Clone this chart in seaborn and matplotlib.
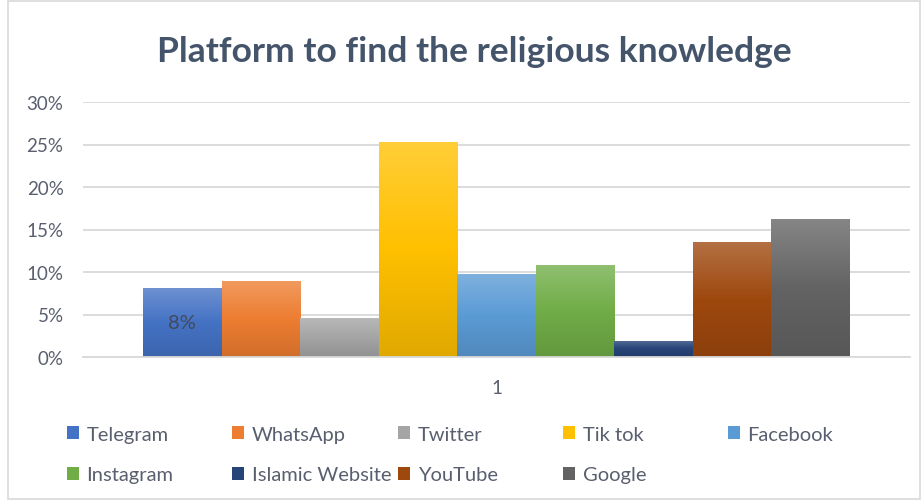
import numpy as np
import pandas as pd
import matplotlib
matplotlib.use("Agg")
import matplotlib.pyplot as plt
import matplotlib.colors as mcolors
from matplotlib.patches import Patch, Rectangle
from matplotlib.ticker import PercentFormatter
import seaborn as sns

platforms = ["Telegram", "WhatsApp", "Twitter", "Tik tok", "Facebook",
             "Instagram", "Islamic Website", "YouTube", "Google"]
values = [0.081, 0.089, 0.046, 0.253, 0.098, 0.108, 0.019, 0.135, 0.162]
category = ["1"] * len(platforms)
colors = ["#4472C4", "#ED7D31", "#A5A5A5", "#FFC000", "#5B9BD5",
          "#70AD47", "#264478", "#9E480E", "#636363"]
data_labels = {"Telegram": "8%"}

df = pd.DataFrame({"cat": category, "platform": platforms, "value": values})

sns.set_theme(style="white")
plt.rcParams["font.family"] = ["Lato", "DejaVu Sans"]

text_col = "#595f6e"
W, H = 923, 502
fig = plt.figure(figsize=(W / 100, H / 100), dpi=100)
ax = fig.add_axes([83 / W, 1 - 358 / H, (910 - 83) / W, (358 - 103) / H])

sns.barplot(data=df, x="cat", y="value", hue="platform", hue_order=platforms,
            palette=colors, width=0.855, gap=0, ax=ax, legend=False,
            saturation=1, edgecolor="none", linewidth=0)

ax.set_xlim(-0.5, 0.5)
ax.set_ylim(0, 0.30)
ax.set_yticks(np.arange(0, 0.31, 0.05))
ax.yaxis.set_major_formatter(PercentFormatter(1.0, decimals=0))
ax.grid(axis="y", color="#D9D9D9", linewidth=1.3)
ax.set_axisbelow(True)
for s in ["top", "right", "left"]:
    ax.spines[s].set_visible(False)
ax.spines["bottom"].set_color("#D9D9D9")
ax.spines["bottom"].set_linewidth(1.3)
ax.tick_params(axis="y", length=0, labelsize=13.5, labelcolor=text_col, pad=14)
ax.tick_params(axis="x", length=0, labelsize=13.5, labelcolor=text_col, pad=16)
ax.set_xlabel("")
ax.set_ylabel("")

# gradient fill for bars
grad = np.linspace(0, 1, 256).reshape(-1, 1)
for cont, col in zip(ax.containers, colors):
    base = np.array(mcolors.to_rgb(col))
    light = base + (1 - base) * 0.22
    dark = base * 0.88
    cmap = mcolors.LinearSegmentedColormap.from_list("g", [dark, base, light])
    for p in cont.patches:
        x0, y0 = p.get_x(), p.get_y()
        w, h = p.get_width(), p.get_height()
        im = ax.imshow(grad, extent=[x0, x0 + w, y0, y0 + h], origin="lower",
                       cmap=cmap, aspect="auto", zorder=p.get_zorder() + 0.1)
        im.set_clip_path(p)
ax.set_xlim(-0.5, 0.5)
ax.set_ylim(0, 0.30)

for cont, name in zip(ax.containers, platforms):
    if name in data_labels:
        ax.bar_label(cont, labels=[data_labels[name]], label_type="center",
                     fontsize=14.5, color="#404a5c", zorder=10)

fig.text(474 / W, 1 - 52 / H, "Platform to find the religious knowledge",
         ha="center", va="center", fontsize=25.5, fontweight="bold",
         color="#44546A")

# legend: 5 columns, filled row-wise
handles = [Patch(facecolor=c, edgecolor="none") for c in colors]
col_x = [67, 232, 398, 563, 728]
legend_top = 427
ncol = 5
for c in range(ncol):
    idx = list(range(c, len(platforms), ncol))
    fig.legend([handles[i] for i in idx], [platforms[i] for i in idx],
               loc="upper left", bbox_to_anchor=(col_x[c] / W, 1 - legend_top / H),
               frameon=False, fontsize=14.5, labelcolor=text_col,
               handlelength=0.62, handleheight=0.62, handletextpad=0.35,
               borderaxespad=0, borderpad=0, labelspacing=1.15)

fig.add_artist(Rectangle((0.009, 0.003), 0.988, 0.994, transform=fig.transFigure,
                         fill=False, edgecolor="#D9D9D9", linewidth=1.2))

fig.savefig("out.png", dpi=100, facecolor="white")
